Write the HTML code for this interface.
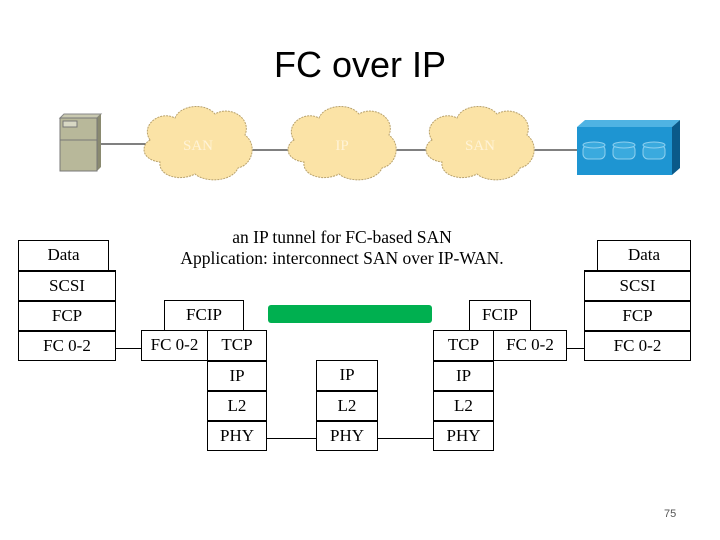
<!DOCTYPE html>
<html><head><style>
body{margin:0;width:720px;height:540px;background:#fff;position:relative;overflow:hidden;font-family:"Liberation Serif",serif}
.b{position:absolute;border:1px solid #000;box-sizing:border-box;text-align:center;font-size:17px;line-height:28px;background:#fff}
.bt{border-top:2px solid #000}
.t{position:absolute;white-space:nowrap}
.ln{position:absolute;height:1px;background:#000}
</style></head><body>
<div class="t" style="left:0;width:720px;text-align:center;top:44px;font-family:'Liberation Sans',sans-serif;font-size:36px">FC over IP</div>
<svg width="720" height="200" style="position:absolute;left:0;top:0">
<line x1="100" y1="144" x2="152" y2="144" stroke="#000"/>
<line x1="250" y1="150" x2="296" y2="150" stroke="#000"/>
<line x1="386" y1="150" x2="440" y2="150" stroke="#000"/>
<line x1="525" y1="150" x2="605" y2="150" stroke="#000"/>
<polygon points="60,118 64,114 101,114 97,118" fill="#c9c9b0" stroke="#888"/>
<polygon points="97,118 101,114 101,167 97,171" fill="#8a8a70"/>
<rect x="60" y="118" width="37" height="53" fill="#b8b89a" stroke="#777"/>
<rect x="63" y="121" width="14" height="6" fill="#d8d8c4" stroke="#777"/>
<line x1="60" y1="140" x2="97" y2="140" stroke="#777"/>
<g fill="#fbe3a6" stroke="#b9a26c" stroke-dasharray="2,1">
<path d="M150,140 C140,125 160,110 175,118 C180,105 205,102 215,114 C230,105 252,118 245,135 C258,145 252,165 238,168 C232,182 205,183 195,174 C180,182 158,176 160,162 C142,160 140,146 150,140Z"/>
<path d="M294,140 C284,125 304,110 319,118 C324,105 349,102 359,114 C374,105 396,118 389,135 C402,145 396,165 382,168 C376,182 349,183 339,174 C324,182 302,176 304,162 C286,160 284,146 294,140Z"/>
<path d="M432,140 C422,125 442,110 457,118 C462,105 487,102 497,114 C512,105 534,118 527,135 C540,145 534,165 520,168 C514,182 487,183 477,174 C462,182 440,176 442,162 C424,160 422,146 432,140Z"/>
</g>
<g font-family="Liberation Serif" font-size="15" fill="#fff3d6" text-anchor="middle">
<text x="198" y="150">SAN</text><text x="342" y="150">IP</text><text x="480" y="150">SAN</text></g>
<polygon points="577,127 585,120 680,120 672,127" fill="#4fb3e3"/>
<polygon points="672,127 680,120 680,168 672,175" fill="#0a5a8a"/>
<rect x="577" y="127" width="95" height="48" fill="#1e95d2"/>
<g fill="#3aaade" stroke="#8fd0ef">
<rect x="583" y="145" width="22" height="14" rx="5"/><ellipse cx="594" cy="145" rx="11" ry="3"/>
<rect x="613" y="145" width="22" height="14" rx="5"/><ellipse cx="624" cy="145" rx="11" ry="3"/>
<rect x="643" y="145" width="22" height="14" rx="5"/><ellipse cx="654" cy="145" rx="11" ry="3"/>
</g>
</svg>
<div class="t" style="left:142px;width:400px;text-align:center;top:227px;font-size:17.5px;line-height:21px">an IP tunnel for FC-based SAN<br>Application: interconnect SAN over IP-WAN.</div>
<div class="ln" style="left:115px;width:26px;top:348px"></div>
<div class="ln" style="left:567px;width:18px;top:348px"></div>
<div class="ln" style="left:266px;width:50px;top:438px"></div>
<div class="ln" style="left:377px;width:56px;top:438px"></div>
<div class="b" style="left:18px;top:240px;width:91px;height:31px">Data</div>
<div class="b bt" style="left:18px;top:270px;width:98px;height:31px">SCSI</div>
<div class="b bt" style="left:18px;top:300px;width:98px;height:31px">FCP</div>
<div class="b bt" style="left:18px;top:330px;width:98px;height:31px">FC 0-2</div>
<div class="b" style="left:164px;top:300px;width:80px;height:31px">FCIP</div>
<div class="b" style="left:141px;top:330px;width:67px;height:31px">FC 0-2</div>
<div class="b" style="left:207px;top:330px;width:60px;height:31px">TCP</div>
<div class="b bt" style="left:207px;top:360px;width:60px;height:31px">IP</div>
<div class="b bt" style="left:207px;top:390px;width:60px;height:31px">L2</div>
<div class="b bt" style="left:207px;top:420px;width:60px;height:31px">PHY</div>
<div class="b" style="left:316px;top:360px;width:62px;height:31px">IP</div>
<div class="b bt" style="left:316px;top:390px;width:62px;height:31px">L2</div>
<div class="b bt" style="left:316px;top:420px;width:62px;height:31px">PHY</div>
<div class="b" style="left:469px;top:300px;width:62px;height:31px">FCIP</div>
<div class="b" style="left:433px;top:330px;width:61px;height:31px">TCP</div>
<div class="b" style="left:493px;top:330px;width:74px;height:31px">FC 0-2</div>
<div class="b bt" style="left:433px;top:360px;width:61px;height:31px">IP</div>
<div class="b bt" style="left:433px;top:390px;width:61px;height:31px">L2</div>
<div class="b bt" style="left:433px;top:420px;width:61px;height:31px">PHY</div>
<div class="b" style="left:597px;top:240px;width:94px;height:31px">Data</div>
<div class="b bt" style="left:584px;top:270px;width:107px;height:31px">SCSI</div>
<div class="b bt" style="left:584px;top:300px;width:107px;height:31px">FCP</div>
<div class="b bt" style="left:584px;top:330px;width:107px;height:31px">FC 0-2</div>
<div style="position:absolute;left:268px;top:305px;width:164px;height:18px;background:#00b050;border-radius:3px"></div>
<div class="t" style="left:664px;top:508px;font-family:'Liberation Sans',sans-serif;font-size:11px;color:#555">75</div>
</body></html>
